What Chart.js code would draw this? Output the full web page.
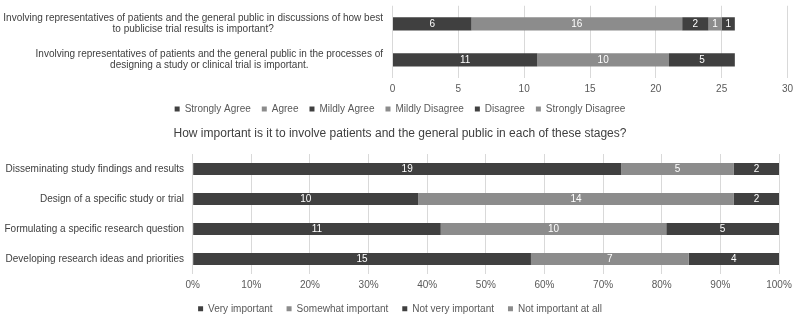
<!DOCTYPE html>
<html>
<head>
<meta charset="utf-8">
<script src="https://cdn.jsdelivr.net/npm/chart.js@4/dist/chart.umd.min.js"></script>
<style>
  html, body { margin: 0; padding: 0; background: #ffffff; width: 800px; height: 317px; overflow: hidden; }
  canvas { position: absolute; left: 0; }
  #top { top: 0; }
  #bottom { top: 120px; }
</style>
</head>
<body>
<canvas id="top" width="800" height="122"></canvas>
<canvas id="bottom" width="800" height="197"></canvas>
<script>
// ---------- DATA ----------
const topCategories = [
  ["Involving representatives of patients and the general public in discussions of how best", "to publicise trial results is important?"],
  ["Involving representatives of patients and the general public in the processes of", "designing a study or clinical trial is important."]
];
const topSeriesNames = ["Strongly Agree", "Agree", "Mildly Agree", "Mildly Disagree", "Disagree", "Strongly Disagree"];
const stronglyAgree    = [6, 11];
const agree            = [16, 10];
const mildlyAgree      = [2, 5];
const mildlyDisagree   = [1, 0];
const disagree         = [1, 0];
const stronglyDisagree = [0, 0];
const topTicks = [0, 5, 10, 15, 20, 25, 30];

const bottomTitle = "How important is it to involve patients and the general public in each of these stages?";
const bottomCategories = [
  "Disseminating study findings and results",
  "Design of a specific study or trial",
  "Formulating a specific research question",
  "Developing research ideas and priorities"
];
const bottomSeriesNames = ["Very important", "Somewhat important", "Not very important", "Not important at all"];
const veryImportant      = [19, 10, 11, 15];
const somewhatImportant  = [5, 14, 10, 7];
const notVeryImportant   = [2, 2, 5, 4];
const notImportantAtAll  = [0, 0, 0, 0];
const bottomTicks = [0, 10, 20, 30, 40, 50, 60, 70, 80, 90, 100];

// ---------- STYLE ----------
const DARK = '#404040';
const LIGHT = '#8c8c8c';
const GRID = '#d9d9d9';
const TEXT = '#595959';
const LABEL = '#404040';
const FONT = "'Liberation Sans', Arial, sans-serif";
const FS = 10;
Chart.defaults.font.family = FONT;
Chart.defaults.font.size = FS;
Chart.defaults.color = TEXT;

// value labels on segments
const barLabels = {
  id: 'barLabels',
  afterDatasetsDraw(chart) {
    const ctx = chart.ctx;
    ctx.save();
    ctx.font = FS + 'px ' + FONT;
    ctx.fillStyle = '#ffffff';
    ctx.textAlign = 'center';
    ctx.textBaseline = 'middle';
    chart.data.datasets.forEach((ds, di) => {
      const meta = chart.getDatasetMeta(di);
      if (meta.hidden) return;
      meta.data.forEach((el, i) => {
        const v = ds.counts ? ds.counts[i] : ds.data[i];
        if (!v) return;
        const p = el.getProps(['x', 'y', 'base'], true);
        ctx.fillText(String(v), (p.x + p.base) / 2, p.y + 0.5);
      });
    });
    ctx.restore();
  }
};

// two-line category labels, each centred on its own, right edge near the axis
const topYLabels = {
  id: 'topYLabels',
  afterDraw(chart) {
    const ctx = chart.ctx;
    const y = chart.scales.y;
    const rightEdge = chart.chartArea.left - 9.5;
    const lh = 11.5;
    ctx.save();
    ctx.font = FS + 'px ' + FONT;
    ctx.fillStyle = LABEL;
    ctx.textAlign = 'center';
    ctx.textBaseline = 'middle';
    topCategories.forEach((lines, i) => {
      const cy = y.getPixelForValue(i);
      const w = Math.max(...lines.map(l => ctx.measureText(l).width));
      const cx = rightEdge - w / 2;
      const start = cy - (lines.length - 1) * lh / 2;
      lines.forEach((l, k) => ctx.fillText(l, cx, start + k * lh));
    });
    ctx.restore();
  }
};

function mk(name, data, color, counts) {
  const d = { label: name, data: data, backgroundColor: color, borderWidth: 0 };
  if (counts) d.counts = counts;
  return d;
}

// ---------- TOP CHART ----------
const topValues = [stronglyAgree, agree, mildlyAgree, mildlyDisagree, disagree, stronglyDisagree];
new Chart(document.getElementById('top'), {
  type: 'bar',
  data: {
    labels: topCategories.map(l => l.join(' ')),
    datasets: topSeriesNames.map((n, i) => mk(n, topValues[i], i % 2 === 0 ? DARK : LIGHT))
  },
  options: {
    indexAxis: 'y',
    responsive: false,
    animation: false,
    datasets: { bar: { barPercentage: 0.37, categoryPercentage: 1 } },
    layout: { padding: { top: 5.75, right: 0, bottom: 0, left: 0 } },
    scales: {
      x: {
        stacked: true, min: 0, max: 30,
        afterBuildTicks(s) { s.ticks = topTicks.map(v => ({ value: v })); },
        ticks: { padding: 5.5, color: TEXT, font: { size: FS } },
        grid: { color: GRID, drawTicks: false },
        border: { display: false },
        afterFit(s) { s.height = 15; s.paddingLeft = 0; s.paddingRight = 12.5; }
      },
      y: {
        stacked: true,
        ticks: { display: false },
        grid: { display: false, drawTicks: false },
        border: { display: false },
        afterFit(s) { s.width = 392.5; s.paddingTop = 0; s.paddingBottom = 0; }
      }
    },
    plugins: {
      legend: {
        position: 'bottom',
        maxHeight: 29,
        labels: { boxWidth: 5, boxHeight: 5, padding: 11, color: TEXT, font: { size: FS } }
      },
      tooltip: { enabled: false },
      title: { display: false }
    }
  },
  plugins: [barLabels, topYLabels]
});

// ---------- BOTTOM CHART ----------
const bottomCounts = [veryImportant, somewhatImportant, notVeryImportant, notImportantAtAll];
const bottomTotals = bottomCategories.map((_, i) => bottomCounts.reduce((a, s) => a + s[i], 0));
new Chart(document.getElementById('bottom'), {
  type: 'bar',
  data: {
    labels: bottomCategories,
    datasets: bottomSeriesNames.map((n, i) =>
      mk(n, bottomCounts[i].map((v, k) => v / bottomTotals[k] * 100), i % 2 === 0 ? DARK : LIGHT, bottomCounts[i]))
  },
  options: {
    indexAxis: 'y',
    responsive: false,
    animation: false,
    datasets: { bar: { barPercentage: 0.4, categoryPercentage: 1 } },
    layout: { padding: 0 },
    scales: {
      x: {
        stacked: true, min: 0, max: 100,
        afterBuildTicks(s) { s.ticks = bottomTicks.map(v => ({ value: v })); },
        ticks: { padding: 5.7, color: TEXT, font: { size: FS }, callback: v => v + '%' },
        grid: { color: GRID, drawTicks: false },
        border: { display: false },
        afterFit(s) { s.height = 15.75; s.paddingLeft = 0; s.paddingRight = 21; }
      },
      y: {
        stacked: true,
        ticks: { padding: 8.7, color: LABEL, font: { size: FS } },
        grid: { display: false, drawTicks: false },
        border: { display: false },
        afterFit(s) { s.width = 192.7; s.paddingTop = 0; s.paddingBottom = 0; }
      }
    },
    plugins: {
      title: {
        display: true, text: bottomTitle, color: LABEL,
        font: { size: 12, weight: 'normal' },
        padding: { top: 6.5, bottom: 13.1 }
      },
      legend: {
        position: 'bottom',
        maxHeight: 27.25,
        labels: { boxWidth: 5, boxHeight: 5, padding: 14, color: TEXT, font: { size: FS } }
      },
      tooltip: { enabled: false }
    }
  },
  plugins: [barLabels]
});
</script>
</body>
</html>
